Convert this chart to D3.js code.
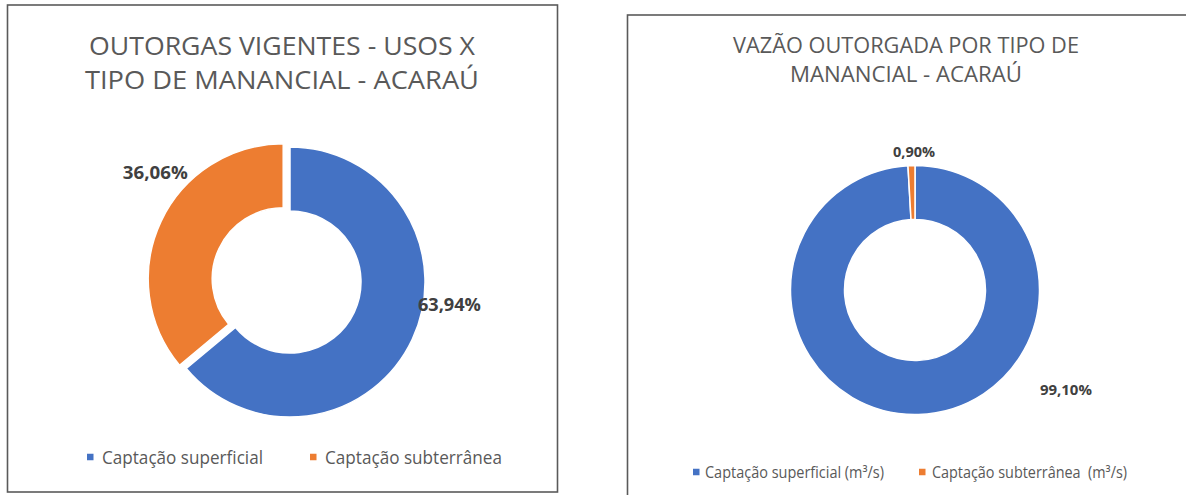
<!DOCTYPE html>
<html>
<head>
<meta charset="utf-8">
<script src="https://cdn.jsdelivr.net/npm/d3@7"></script>
<style>
  html, body { margin: 0; padding: 0; background: #ffffff; }
  svg { display: block; }
</style>
</head>
<body>
<script>
// ---- data ----
const leftTitle = ["OUTORGAS VIGENTES - USOS X", "TIPO DE MANANCIAL - ACARAÚ"];
const leftCategories = ["Captação superficial", "Captação subterrânea"];
const leftValues = [63.94, 36.06];
const leftLabels = ["63,94%", "36,06%"];

const rightTitle = ["VAZÃO OUTORGADA POR TIPO DE", "MANANCIAL - ACARAÚ"];
const rightCategories = ["Captação superficial (m³/s)", "Captação subterrânea  (m³/s)"];
const rightValues = [99.10, 0.90];
const rightLabels = ["99,10%", "0,90%"];

const colors = ["#4472C4", "#ED7D31"];

// ---- layout ----
const W = 1186, H = 495;
const svg = d3.select("body").append("svg").attr("width", W).attr("height", H);
const FONT = "'Open Sans', 'Noto Sans', sans-serif";

function fitText(sel, w) {
  sel.attr("textLength", w).attr("lengthAdjust", "spacingAndGlyphs");
}

const panels = [
  {
    frame: {x: 7.5, y: 5, w: 550, h: 487},
    title: leftTitle, titleX: 282, titleY: [46, 80], titleSize: 26, titleW: [386, 394],
    cx: 290, cy: 282, R: 135, r: 71,
    values: leftValues, labels: leftLabels, categories: leftCategories,
    explode: [0, 7.5],
    labelPos: [{a: 98, d: 161}, {a: 309.6, d: 166}], labelSize: 18, labelW: [63, 65],
    legendY: 457, legendSize: 18.5, legendItems: [{mx: 87, tx: 102, tw: 161}, {mx: 310, tx: 325, tw: 177}]
  },
  {
    frame: {x: 627.5, y: 15, w: 600, h: 520},
    title: rightTitle, titleX: 906, titleY: [45, 74], titleSize: 22, titleW: [346, 232],
    cx: 915, cy: 290, R: 124.5, r: 70.5,
    values: rightValues, labels: rightLabels, categories: rightCategories,
    explode: [0, 0],
    labelPos: [{a: 123.5, d: 181}, {a: -0.4, d: 138}], labelSize: 15, labelW: [52, 42],
    legendY: 472, legendSize: 16, legendItems: [{mx: 693, tx: 705, tw: 179}, {mx: 919, tx: 932, tw: 195}]
  }
];

panels.forEach(p => {
  const g = svg.append("g");
  g.append("rect")
    .attr("x", p.frame.x).attr("y", p.frame.y)
    .attr("width", p.frame.w).attr("height", p.frame.h)
    .attr("fill", "#ffffff").attr("stroke", "#5a5a5a").attr("stroke-width", 1.6);

  // title
  p.title.forEach((t, i) => {
    g.append("text")
      .attr("x", p.titleX).attr("y", p.titleY[i] + 0.357 * p.titleSize)
      .attr("text-anchor", "middle")
      .attr("font-family", FONT).attr("font-size", p.titleSize)
      .attr("fill", "#595959")
      .text(t)
      .call(fitText, p.titleW[i]);
  });

  const pie = d3.pie().sort(null).value(d => d);
  const arcs = pie(p.values);
  const arc = d3.arc().innerRadius(p.r).outerRadius(p.R);

  const toRad = a => a * Math.PI / 180;
  arcs.forEach((d, i) => {
    const mid = (d.startAngle + d.endAngle) / 2;
    const ox = Math.sin(mid) * p.explode[i];
    const oy = -Math.cos(mid) * p.explode[i];
    const sg = g.append("g").attr("transform", `translate(${p.cx + ox},${p.cy + oy})`);
    sg.append("path")
      .attr("d", arc(d))
      .attr("fill", colors[i])
      .attr("stroke", "#ffffff").attr("stroke-width", 1.5);

    const lp = p.labelPos[i];
    const lx = Math.sin(toRad(lp.a)) * lp.d;
    const ly = -Math.cos(toRad(lp.a)) * lp.d;
    sg.append("text")
      .attr("x", lx).attr("y", ly + 0.357 * p.labelSize)
      .attr("text-anchor", "middle")
      .attr("font-family", FONT).attr("font-weight", "bold")
      .attr("font-size", p.labelSize).attr("fill", "#404040")
      .text(p.labels[i])
      .call(fitText, p.labelW[i]);
  });

  // legend
  p.categories.forEach((c, i) => {
    const it = p.legendItems[i];
    const ms = 6.5;
    g.append("rect")
      .attr("x", it.mx).attr("y", p.legendY - ms / 2)
      .attr("width", ms).attr("height", ms)
      .attr("fill", colors[i]);
    g.append("text")
      .attr("x", it.tx).attr("y", p.legendY + 0.357 * p.legendSize)
      .attr("font-family", FONT).attr("font-size", p.legendSize)
      .attr("fill", "#595959")
      .attr("xml:space", "preserve")
      .style("white-space", "pre")
      .text(c)
      .call(fitText, it.tw);
  });
});
</script>
</body>
</html>
